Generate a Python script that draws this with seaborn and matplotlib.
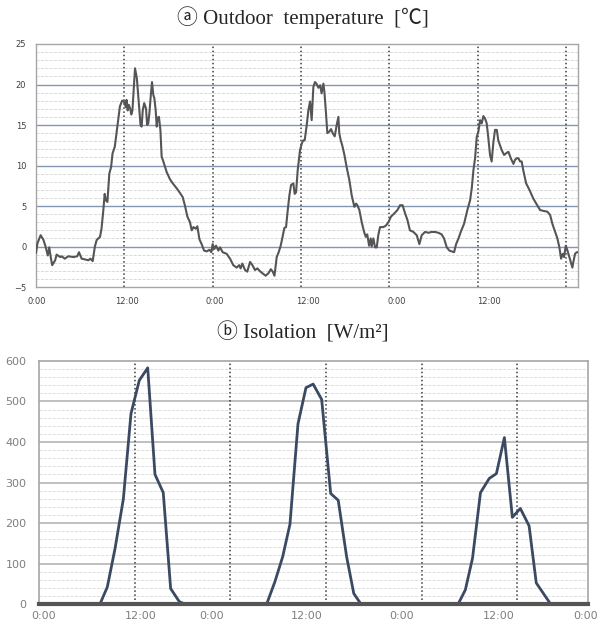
import numpy as np
import pandas as pd
import matplotlib.pyplot as plt
import seaborn as sns

sns.set_style('white')
plt.rcParams['font.family'] = ['DejaVu Sans']

# outdoor temperature (hours since start, deg C)
temp_hours = [0.0, 0.2, 0.63, 1.0, 1.3, 1.6, 1.8, 2.0, 2.2, 2.6, 2.8, 3.3, 3.5, 3.9, 4.4, 5.1, 5.6, 5.84,
              6.2, 6.7, 7.1, 7.4, 7.7, 8.0, 8.24, 8.7, 8.9, 9.15, 9.33, 9.5, 9.7, 9.96, 10.2, 10.4, 10.7,
              11.05, 11.4, 11.7, 11.96, 12.2, 12.3, 12.45, 12.6, 12.8, 12.95, 13.1, 13.3, 13.45, 13.7,
              13.9, 14.05, 14.2, 14.35, 14.5, 14.7, 14.95, 15.1, 15.25, 15.4, 15.6, 15.76, 15.94, 16.08,
              16.26, 16.4, 16.53, 16.7, 16.9, 17.07, 17.3, 17.75, 18.2, 18.66, 19.1, 19.57, 19.93, 20.25,
              20.56, 20.92, 21.15, 21.38, 21.7, 21.92, 22.2, 22.5, 22.83, 23.2, 23.55, 23.82, 24.0, 24.23,
              24.46, 24.77, 25.0, 25.36, 25.9, 26.36, 26.8, 27.26, 27.6, 27.8, 28.03, 28.4, 28.7, 29.08,
              29.4, 29.75, 30.07, 30.5, 30.9, 31.2, 31.57, 31.9, 32.16, 32.4, 32.7, 32.97, 33.24, 33.5,
              33.74, 33.97, 34.2, 34.42, 34.65, 34.96, 35.14, 35.33, 35.55, 35.87, 36.1, 36.3, 36.5,
              36.78, 37.0, 37.23, 37.45, 37.68, 37.9, 38.1, 38.36, 38.6, 38.8, 39.04, 39.18, 39.4, 39.58,
              39.86, 40.08, 40.3, 40.58, 40.85, 41.08, 41.2, 41.4, 41.6, 41.9, 42.2, 42.57, 42.89, 43.25,
              43.48, 43.66, 43.93, 44.25, 44.57, 44.8, 45.0, 45.25, 45.47, 45.6, 45.83, 46.06, 46.29,
              46.5, 46.74, 47.2, 47.55, 47.87, 48.23, 48.69, 49.1, 49.46, 49.8, 50.14, 50.45, 50.8,
              51.27, 51.72, 52.08, 52.4, 52.85, 53.3, 53.76, 54.2, 54.66, 55.1, 55.43, 55.8, 56.16,
              56.48, 56.8, 57.07, 57.4, 57.7, 58.15, 58.6, 58.97, 59.2, 59.42, 59.65, 59.87, 60.1,
              60.33, 60.55, 60.78, 61.0, 61.23, 61.46, 61.68, 61.9, 62.14, 62.36, 62.6, 62.8, 63.04,
              63.27, 63.59, 63.86, 64.18, 64.5, 64.86, 65.08, 65.3, 65.53, 65.76, 65.98, 66.2, 66.58,
              67.03, 67.57, 68.1, 68.48, 68.93, 69.47, 69.84, 70.15, 70.52, 70.83, 71.1, 71.33, 71.56,
              71.74, 71.97, 72.2, 72.46, 72.64, 72.87, 73.0, 73.23, 73.46, 73.7]
temp_vals = [-0.8, 0.4, 1.4, 0.85, 0.0, -1.1, -0.1, -1.3, -2.3, -1.7, -1.0, -1.3, -1.2, -1.5, -1.2, -1.3,
             -1.2, -0.7, -1.5, -1.6, -1.7, -1.5, -1.8, 0.0, 0.8, 1.2, 2.2, 4.5, 6.5, 5.7, 5.5, 9.0, 9.8,
             11.5, 12.3, 14.8, 17.3, 18.0, 17.9, 17.2, 18.1, 16.8, 17.5, 17.0, 16.3, 16.8, 19.7, 22.0,
             20.8, 18.5, 16.8, 15.0, 14.8, 16.8, 17.7, 17.0, 15.0, 15.2, 16.4, 18.7, 20.3, 18.7, 18.3,
             16.8, 14.8, 15.9, 16.0, 14.4, 11.1, 10.5, 9.2, 8.3, 7.7, 7.2, 6.6, 6.1, 5.0, 3.7, 3.0, 2.0,
             2.4, 2.2, 2.5, 0.9, 0.3, -0.5, -0.6, -0.4, -0.7, 0.3, -0.3, 0.1, -0.5, -0.1, -0.7, -0.9,
             -1.5, -2.3, -2.6, -2.3, -2.7, -2.1, -2.9, -3.1, -1.9, -2.3, -2.9, -2.7, -3.1, -3.4, -3.6,
             -3.3, -2.8, -3.1, -3.6, -1.3, -0.7, 0.1, 1.2, 2.3, 2.4, 4.5, 6.3, 7.6, 7.8, 6.5, 6.7, 9.4,
             11.9, 12.7, 13.1, 13.1, 15.0, 16.8, 17.9, 15.6, 19.7, 20.3, 20.1, 19.6, 19.9, 18.9, 20.1,
             19.1, 16.4, 14.0, 14.2, 14.5, 14.0, 13.6, 15.0, 16.0, 14.0, 13.1, 12.5, 11.3, 9.8, 8.2,
             6.3, 4.9, 5.3, 5.1, 4.5, 3.0, 1.8, 1.2, 1.5, 0.1, 1.0, 0.0, 1.0, -0.1, -0.1, 1.4, 2.4, 2.4,
             2.6, 3.0, 3.7, 4.1, 4.5, 5.1, 5.1, 4.1, 3.3, 2.0, 1.8, 1.4, 0.3, 1.4, 1.8, 1.7, 1.8, 1.8,
             1.7, 1.5, 1.0, -0.1, -0.5, -0.6, -0.7, 0.3, 1.0, 1.8, 2.8, 4.5, 5.7, 7.2, 9.4, 10.9, 13.5,
             14.2, 15.6, 15.2, 16.1, 15.8, 15.2, 13.3, 11.3, 10.5, 12.9, 14.4, 14.4, 13.1, 12.5, 11.9,
             11.3, 11.5, 11.7, 10.9, 10.2, 10.7, 10.9, 10.9, 10.5, 10.5, 9.4, 7.8, 7.0, 5.9, 5.1, 4.5,
             4.4, 4.3, 3.9, 2.8, 1.8, 1.0, -0.1, -1.5, -0.9, -1.3, 0.1, -0.5, -1.3, -1.9, -2.6, -1.9,
             -0.9, -0.7, -0.7]

# solar radiation, one day at a time (hours since start, W/m2)
sun1_hours = [7.65, 8.57, 9.54, 10.58, 11.54, 12.58, 13.64, 14.55, 15.59, 16.52, 17.6, 18.3]
sun1_vals = [0, 42, 137, 259, 470, 552, 583, 320, 275, 38, 6, 0]
sun2_hours = [28.57, 29.6, 30.58, 31.49, 32.5, 33.5, 34.4, 35.47, 36.6, 37.55, 38.6, 39.5, 40.4]
sun2_vals = [0, 55, 117, 197, 445, 534, 543, 505, 273, 256, 117, 26, 0]
sun3_hours = [52.6, 53.5, 54.4, 55.4, 56.5, 57.4, 58.4, 59.4, 60.4, 61.5, 62.4, 64.2]
sun3_vals = [0, 35, 113, 275, 310, 322, 411, 214, 236, 193, 52, 0]

temp_ticks = [0.1, 12.4, 24.3, 36.9, 49.0, 61.5]
sun_ticks = [0.6, 12.7, 21.7, 33.6, 45.5, 57.7, 68.6]
top_labels = ['0:00', '12:00', '0:00', '12:00', '0:00', '12:00']
bot_labels = ['0:00', '12:00', '0:00', '12:00', '0:00', '12:00', '0:00']

temp = pd.DataFrame({'hour': temp_hours, 'temp': temp_vals})
sun = pd.DataFrame({'hour': [0] + sun1_hours + sun2_hours + sun3_hours + [68.9],
                    'rad': [0] + sun1_vals + sun2_vals + sun3_vals + [0]})

title_font = ['Liberation Serif', 'Noto Sans CJK KR', 'DejaVu Sans']

fig = plt.figure(figsize=(6.05, 6.24), dpi=100)

# a) temperature
ax1 = fig.add_axes([0.0595, 0.540, 0.8955, 0.3895])
for v in np.arange(-5, 26, 1):
    if v % 5 != 0:
        ax1.axhline(v, color='#d4d4d4', lw=0.6, ls='--', zorder=0)
for v in [0, 5, 10, 15, 20]:
    ax1.axhline(v, color='#8497b0', lw=1.0, zorder=1)
for h in [0, 12, 24, 36, 48, 60, 72]:
    ax1.axvline(h, color='#3a3a3a', lw=1.1, ls=':', zorder=2)
sns.lineplot(data=temp, x='hour', y='temp', ax=ax1, color='#555555', lw=1.5,
             estimator=None, sort=False, zorder=3)
ax1.set_xlim(0, 73.6)
ax1.set_ylim(-5, 25)
ax1.set_yticks([-5, 0, 5, 10, 15, 20, 25])
ax1.set_xticks(temp_ticks)
ax1.set_xticklabels(top_labels)
ax1.tick_params(length=0, labelsize=6, labelcolor='#404040', pad=7)
ax1.set_xlabel('')
ax1.set_ylabel('')
for s in ax1.spines.values():
    s.set_color('#a6a6a6')
    s.set_linewidth(1.0)
fig.text(0.5, 0.972, 'ⓐ Outdoor  temperature  [℃]', ha='center', va='center',
         fontsize=15, family=title_font)

# b) solar radiation
ax2 = fig.add_axes([0.0645, 0.032, 0.9075, 0.3895])
for v in np.arange(0, 601, 20):
    if v % 100 != 0:
        ax2.axhline(v, color='#d9d9d9', lw=0.6, ls='--', zorder=0)
for v in [100, 200, 300, 400, 500]:
    ax2.axhline(v, color='#b4b4b4', lw=1.2, zorder=1)
for h in [12, 24, 36, 48, 60]:
    ax2.axvline(h, color='#3a3a3a', lw=1.1, ls=':', zorder=2)
sns.lineplot(data=sun, x='hour', y='rad', ax=ax2, color='#3b4a62', lw=2.0,
             estimator=None, sort=False, zorder=3)
ax2.set_xlim(0, 68.9)
ax2.set_ylim(0, 600)
ax2.set_yticks([0, 100, 200, 300, 400, 500, 600])
ax2.set_xticks(sun_ticks)
ax2.set_xticklabels(bot_labels)
ax2.tick_params(length=0, labelsize=8, labelcolor='#7f7f7f', pad=5)
ax2.tick_params(axis='y', pad=9)
ax2.set_xlabel('')
ax2.set_ylabel('')
for s in ax2.spines.values():
    s.set_color('#a6a6a6')
    s.set_linewidth(1.2)
ax2.spines['bottom'].set_color('#555555')
ax2.spines['bottom'].set_linewidth(3)
ax2.spines['bottom'].set_zorder(4)
fig.text(0.5, 0.466, 'ⓑ Isolation  [W/m²]', ha='center', va='center',
         fontsize=15, family=title_font)

plt.savefig('out.png', dpi=100)
plt.close()
